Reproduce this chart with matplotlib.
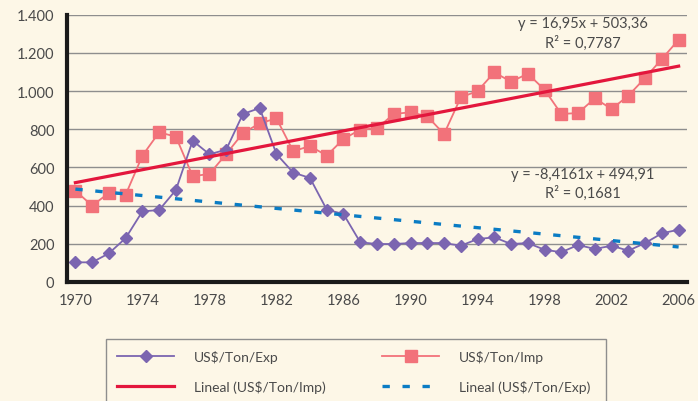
import matplotlib.pyplot as plt
from matplotlib.patches import Rectangle
import numpy as np

plt.rcParams['font.family'] = ['Lato', 'DejaVu Sans']

years = list(range(1970, 2007))
exp_vals = [103, 103, 150, 230, 370, 377, 482, 740, 669, 693, 880, 911, 670, 573, 545, 379,
            356, 208, 199, 199, 204, 204, 204, 190, 225, 234, 199, 204, 169, 156, 194, 173,
            190, 164, 204, 255, 274]
imp_vals = [478, 400, 466, 457, 662, 784, 761, 554, 566, 670, 780, 831, 857, 685, 712, 662,
            749, 798, 805, 880, 889, 868, 775, 967, 1000, 1098, 1049, 1091, 1007, 880, 885, 962,
            906, 976, 1069, 1168, 1269]
# trendline coefficients as printed on the chart (x = 1..37)
imp_trend = (16.95, 503.36)
exp_trend = (-8.4161, 494.91)
imp_eq = ["y = 16,95x + 503,36", "R² = 0,7787"]
exp_eq = ["y = -8,4161x + 494,91", "R² = 0,1681"]
ytick_labels = ["0", "200", "400", "600", "800", "1.000", "1.200", "1.400"]

bg = '#fdf7e7'
txt = '#4a4a4a'
W, H = 698, 402

fig = plt.figure(figsize=(6.98, 4.02), dpi=100, facecolor=bg)
ax = fig.add_axes([67/W, 1-283/H, 620/W, 267.3/H])
ax.set_facecolor(bg)

xs = np.arange(1, len(years)+1)
yrs = np.array(years)
l_exp, = ax.plot(yrs, exp_vals, color='#7b65b0', lw=1.3, marker='D', ms=6.5,
                 label='US$/Ton/Exp', zorder=4)
l_imp, = ax.plot(yrs, imp_vals, color='#f2727a', lw=1.3, marker='s', ms=9,
                 label='US$/Ton/Imp', zorder=3)
l_timp, = ax.plot(yrs, imp_trend[0]*xs + imp_trend[1], color='#e3173d', lw=2.3,
                  label='Lineal (US$/Ton/Imp)', zorder=5)
l_texp, = ax.plot(yrs, exp_trend[0]*xs + exp_trend[1], color='#0a7cc4', lw=2.4,
                  dashes=(2.2, 3.8), label='Lineal (US$/Ton/Exp)', zorder=5)

ax.set_xlim(1969.5, 2006.5)
ax.set_ylim(0, 1400)
ax.set_xticks(range(1970, 2007, 4))
ax.set_yticks(range(0, 1401, 200))
ax.set_yticklabels(ytick_labels)
ax.tick_params(length=0, labelsize=10.5, labelcolor=txt, pad=8)
ax.tick_params(axis='y', pad=9)
ax.grid(axis='y', color='#8e8e8e', lw=1)
ax.set_axisbelow(True)
for s in ['top', 'right']:
    ax.spines[s].set_visible(False)
for s in ['left', 'bottom']:
    ax.spines[s].set_linewidth(3)
    ax.spines[s].set_color('#1a1a1a')
    ax.spines[s].set_zorder(6)
ax.spines['left'].set_bounds(0, 1400)

ax.text(2000.3, 1355, imp_eq[0], ha='center', va='center', fontsize=10.5, color=txt)
ax.text(2000.3, 1255, imp_eq[1], ha='center', va='center', fontsize=10.5, color=txt)
ax.text(2000.3, 565, exp_eq[0], ha='center', va='center', fontsize=10.5, color=txt)
ax.text(2000.3, 470, exp_eq[1], ha='center', va='center', fontsize=10.5, color=txt)

# legend box (runs off the bottom of the image in the original)
fig.patches.append(Rectangle((106/W, -0.05), 500/W, 0.05 + 1-340/H, transform=fig.transFigure,
                             facecolor=bg, edgecolor='#8e8e8e', lw=1, zorder=0))
leg = fig.legend(handles=[l_exp, l_timp, l_imp, l_texp], ncol=2,
                 loc='upper left', bbox_to_anchor=(106/W, 1-340/H),
                 frameon=False, fontsize=10, labelcolor=txt, handlelength=4.1,
                 handletextpad=1.4, columnspacing=4.1, borderpad=0.8,
                 labelspacing=1.2, borderaxespad=0)

fig.savefig('out.png', dpi=100, facecolor=bg)
